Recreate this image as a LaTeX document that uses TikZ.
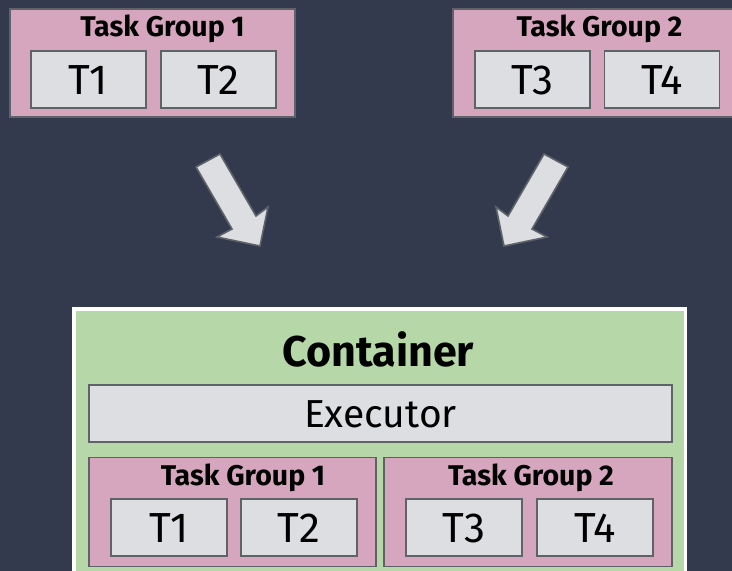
\documentclass[tikz,border=0pt]{standalone}
\usepackage{fontspec}
\setmainfont{Fira Sans}
\definecolor{bg}{RGB}{51,58,77}
\definecolor{grppink}{RGB}{213,166,189}
\definecolor{contgreen}{RGB}{182,215,168}
\definecolor{tgray}{RGB}{221,222,225}
\definecolor{edge}{RGB}{95,99,104}
\begin{document}
\begin{tikzpicture}[x=1pt,y=-1pt,
  grp/.style={draw=edge, line width=1.6pt, fill=grppink, inner sep=0pt, minimum height=108pt},
  tbox/.style={draw=edge, line width=1.6pt, fill=tgray, inner sep=0pt,
    minimum width=115pt, minimum height=57pt,
    font=\fontsize{42}{42}\selectfont, text height=29pt, text depth=0pt},
  ttl/.style={font=\bfseries\fontsize{28.5}{28.5}\selectfont, anchor=base, inner sep=0pt},
  bigarrow/.style={draw=edge, line width=1.6pt, fill=tgray, line join=miter}]
\fill[bg] (0,0) rectangle (732,571);
\useasboundingbox (0,0) rectangle (732,571);

% top task group 1
\node[grp, minimum width=285pt] (g1) at (152.5,63) {};
\node[ttl] (g1t) at (162.5,36) {Task Group 1};
\node[tbox] (t1) at (88.5,79.5) {T1};
\node[tbox] (t2) at (218.5,79.5) {T2};

% top task group 2
\node[grp, minimum width=288pt] (g2) at (597,63) {};
\node[ttl] (g2t) at (599.5,36) {Task Group 2};
\node[tbox] (t3) at (532.5,79.5) {T3};
\node[tbox] (t4) at (662,79.5) {T4};

% arrows
\draw[bigarrow] (196,167) -- (220,154) -- (256,216) -- (268,207) -- (260,246) -- (217,237) -- (232,229) -- cycle;
\draw[bigarrow] (568,167) -- (544,154) -- (508,216) -- (496,207) -- (504,246) -- (547,237) -- (532,229) -- cycle;

% container
\node[draw=white, line width=3.5pt, fill=contgreen, inner sep=0pt,
      minimum width=611.5pt, minimum height=311pt] (cont) at (379.5,464.4) {};
\node[font=\bfseries\fontsize{43}{43}\selectfont, anchor=base, inner sep=0pt] (contt) at (378.5,366) {Container};
\node[tbox, minimum width=583pt, font=\fontsize{39}{39}\selectfont, text height=27pt] (exec) at (380.5,413.5) {Executor};

% bottom task group 1
\node[grp, minimum width=287pt, minimum height=109pt] (bg1) at (232.5,512) {};
\node[ttl] (bg1t) at (243,485) {Task Group 1};
\node[tbox, minimum width=116pt] (bt1) at (169,527.5) {T1};
\node[tbox, minimum width=116pt] (bt2) at (299,527.5) {T2};

% bottom task group 2
\node[grp, minimum width=288pt, minimum height=109pt] (bg2) at (528,512) {};
\node[ttl] (bg2t) at (531,485) {Task Group 2};
\node[tbox, minimum width=116pt] (bt3) at (464,527.5) {T3};
\node[tbox, minimum width=116pt] (bt4) at (595,527.5) {T4};
\end{tikzpicture}
\end{document}
